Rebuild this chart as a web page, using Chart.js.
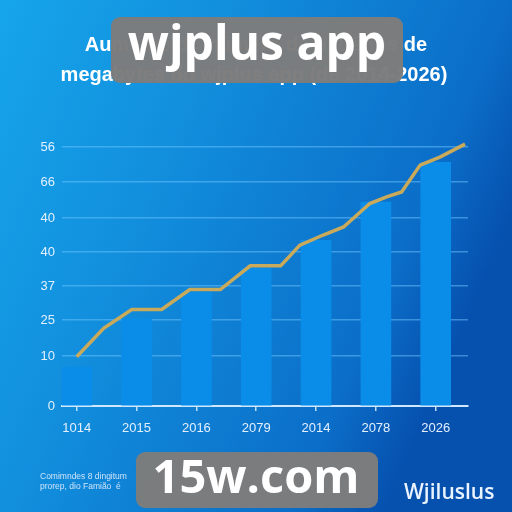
<!DOCTYPE html>
<html>
<head>
<meta charset="utf-8">
<script src="https://cdn.jsdelivr.net/npm/chart.js@4.4.1/dist/chart.umd.min.js"></script>
<style>
  html, body { margin: 0; padding: 0; background: #0b74cc; }
  #wrap { width: 512px; height: 512px; }
</style>
</head>
<body>
<div id="wrap"><canvas id="chart" width="512" height="512"></canvas></div>
<script>
// dados
const yearLabels = ['1014', '2015', '2016', '2079', '2014', '2078', '2026'];
const barValues = [11.1, 24.9, 32.6, 39.4, 47.4, 58.3, 69.7];

// linha dourada (mais pontos que barras)
const lineX = [0, 0.45, 0.92, 1.42, 1.89, 2.40, 2.90, 3.41, 3.73, 4.12, 4.46, 4.90, 5.18, 5.43, 5.74, 6.07, 6.49];
const lineY = [14.1, 22.2, 27.6, 27.6, 33.3, 33.3, 40.1, 40.1, 46.0, 48.9, 51.2, 57.9, 59.8, 61.2, 68.9, 71.2, 74.9];

// eixo y: posições e rótulos como aparecem
const yTickValues = [0, 14.3, 24.6, 34.3, 44, 53.7, 64, 74];
const yTickLabels = ['0', '10', '25', '37', '40', '40', '66', '56'];

const titleLines = ['Aumento do número de usuários de', 'megabytes do wjplus app (de 2014-2026)'];
const footLines = ['Comimndes 8 dingitum', 'prorep, dio Famião  é'];
const brandText = 'Wjiluslus';
const stampTop = 'wjplus app';
const stampBottom = '15w.com';

// fundo em degradê + título
const bgPlugin = {
	id: 'bg',
	beforeDraw( chart ) {
		const ctx = chart.ctx;
		const g = ctx.createLinearGradient( 0, 0, 512, 220 );
		g.addColorStop( 0, '#16a5ea' );
		g.addColorStop( 0.36, '#1290de' );
		g.addColorStop( 0.84, '#0b6ec8' );
		g.addColorStop( 1, '#0650ae' );
		ctx.save();
		ctx.fillStyle = g;
		ctx.fillRect( 0, 0, chart.width, chart.height );

		// título (centrado na largura toda)
		ctx.fillStyle = '#ffffff';
		ctx.font = 'bold 20px "Liberation Sans", Arial, sans-serif';
		ctx.textAlign = 'center';
		ctx.textBaseline = 'middle';
		ctx.fillText( titleLines[ 0 ], 256, 45 );
		ctx.fillText( titleLines[ 1 ], 254, 75 );
		ctx.restore();
	}
};

function roundBox( ctx, x, y, w, h, r ) {
	ctx.beginPath();
	ctx.moveTo( x + r, y );
	ctx.arcTo( x + w, y, x + w, y + h, r );
	ctx.arcTo( x + w, y + h, x, y + h, r );
	ctx.arcTo( x, y + h, x, y, r );
	ctx.arcTo( x, y, x + w, y, r );
	ctx.closePath();
}

// rodapé e carimbos cinza
const overlayPlugin = {
	id: 'overlay',
	afterDraw( chart ) {
		const ctx = chart.ctx;
		ctx.save();
		ctx.fillStyle = 'rgba(225,238,255,0.9)';
		ctx.font = '8.5px "Liberation Sans", Arial, sans-serif';
		ctx.textAlign = 'left';
		ctx.textBaseline = 'middle';
		ctx.fillText( footLines[ 0 ], 40, 477 );
		ctx.fillText( footLines[ 1 ], 40, 487 );

		ctx.fillStyle = '#eaf4ff';
		ctx.font = '600 21px "Open Sans", "Liberation Sans", sans-serif';
		ctx.fillText( brandText, 404, 493 );

		ctx.fillStyle = 'rgba(124,124,124,0.98)';
		roundBox( ctx, 111, 17, 292, 66, 9 );
		ctx.fill();
		roundBox( ctx, 136, 452, 242, 56, 9 );
		ctx.fill();

		ctx.fillStyle = '#ffffff';
		ctx.textAlign = 'center';
		ctx.font = 'bold 48px "Open Sans", "Liberation Sans", sans-serif';
		ctx.fillText( stampTop, 257, 46 );
		ctx.font = 'bold 47px "Open Sans", "Liberation Sans", sans-serif';
		ctx.fillText( stampBottom, 256, 480 );
		ctx.restore();
	}
};

const tickFont = { family: '"Liberation Sans", Arial, sans-serif', size: 13 };

new Chart( document.getElementById( 'chart' ), {
	type: 'bar',
	data: {
		datasets: [
			{
				type: 'line',
				data: lineX.map( ( x, i ) => ( { x: x, y: lineY[ i ] } ) ),
				borderColor: '#c9a95a',
				borderWidth: 3.5,
				pointRadius: 0,
				tension: 0,
				order: 0
			},
			{
				type: 'bar',
				data: barValues.map( ( v, i ) => ( { x: i, y: v } ) ),
				backgroundColor: '#0a8de8',
				barThickness: 30,
				order: 1
			}
		]
	},
	options: {
		responsive: false,
		animation: false,
		layout: { padding: { left: 0, right: 44, top: 142, bottom: 66 } },
		plugins: {
			legend: { display: false },
			tooltip: { enabled: false },
			title: { display: false }
		},
		scales: {
			x: {
				type: 'linear',
				offset: false,
				min: -0.246,
				max: 6.54,
				afterBuildTicks( scale ) {
					scale.ticks = yearLabels.map( ( _, i ) => ( { value: i } ) );
				},
				afterFit( scale ) {
					scale.height = 40;
				},
				ticks: {
					color: '#e4f0ff',
					font: tickFont,
					padding: 10,
					maxRotation: 0,
					autoSkip: false,
					callback: ( v, i ) => yearLabels[ i ]
				},
				grid: {
					offset: false,
					drawOnChartArea: false,
					drawTicks: true,
					tickLength: 5,
					color: 'rgba(210,235,255,0.9)',
					lineWidth: 1.5
				},
				border: { display: true, color: '#cfe8ff', width: 2 }
			},
			y: {
				min: 0,
				max: 75.5,
				afterBuildTicks( scale ) {
					scale.ticks = yTickValues.map( ( v ) => ( { value: v } ) );
				},
				afterFit( scale ) {
					scale.width = 62;
				},
				ticks: {
					color: '#e4f0ff',
					font: tickFont,
					padding: 7,
					autoSkip: false,
					callback: ( v, i ) => yTickLabels[ i ]
				},
				grid: {
					drawTicks: false,
					color: 'rgba(110,195,255,0.5)',
					lineWidth: 1.5
				},
				border: { display: false }
			}
		}
	},
	plugins: [ bgPlugin, overlayPlugin ]
} );
</script>
</body>
</html>
